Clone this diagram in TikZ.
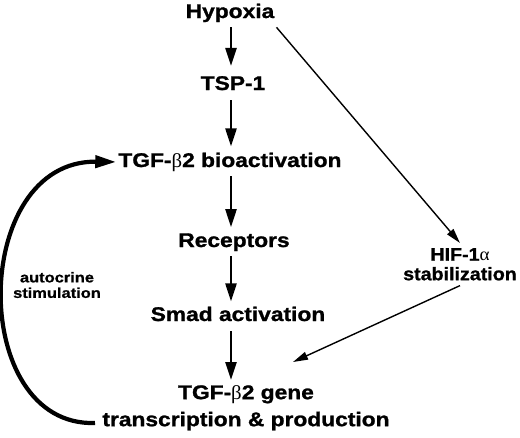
\documentclass[tikz,border=0pt]{standalone}
\usepackage{fontspec}
\setmainfont{Liberation Sans}
\newfontfamily\mainf[FakeStretch=1.15,FakeBold=1.2]{Liberation Sans}
\newfontfamily\hiff[FakeStretch=1.08,FakeBold=1.1]{Liberation Sans}
\newfontfamily\smallf[FakeStretch=1.15,FakeBold=0.8]{Liberation Sans}
\newfontfamily\greekf[FakeStretch=1.05]{Liberation Serif}
\newcommand\grkbeta{{\greekf\mdseries β}}
\newcommand\grkalpha{{\greekf\mdseries α}}
\usetikzlibrary{arrows.meta}
\begin{document}
\begin{tikzpicture}[x=1pt,y=-1pt,
  big/.style={font=\mainf\bfseries\fontsize{19.8}{22}\selectfont, inner xsep=2pt, inner ysep=5pt},
  hifstyle/.style={font=\hiff\bfseries\fontsize{18.2}{19.5}\selectfont, inner xsep=2pt, inner ysep=5pt, align=center},
  smalltxt/.style={font=\smallf\bfseries\fontsize{14.3}{15.5}\selectfont, inner sep=0pt, align=center},
  varrow/.style={line width=2.3pt, -{Triangle[length=18pt,width=11pt]}},
  darrow/.style={line width=1.4pt, -{Triangle[length=15pt,width=8pt]}},
  carrow/.style={line width=4.2pt, -{Triangle[length=21pt,width=12pt]}}
]
\useasboundingbox (0,0) rectangle (520,437);
\coordinate (ax) at (231,0);
\node[big, anchor=base] (hyp) at (230,18) {Hypoxia};
\node[big, anchor=base] (tsp) at (233,90) {TSP-1};
\node[big, anchor=base] (tgf) at (230,167) {TGF-\grkbeta2 bioactivation};
\node[big, anchor=base] (rec) at (234,247) {Receptors};
\node[big, anchor=base] (smad) at (238,321) {Smad activation};
\node[big, align=center, anchor=north, font=\mainf\bfseries\fontsize{19.8}{27}\selectfont] (gene) at (246,380) {TGF-\grkbeta2 gene\\transcription \& production};
\node[hifstyle, anchor=north] (hif) at (460,243) {HIF-1\grkalpha\\stabilization};
\node[smalltxt] (auto) at (57,285) {autocrine\\stimulation};
\coordinate (cstart) at (95,423);

\draw[varrow] (hyp.south -| ax) -- ([yshift=5pt]tsp.north -| ax);
\draw[varrow, shorten <=5pt] (tsp.south -| ax) -- ([yshift=1pt]tgf.north -| ax);
\draw[varrow] (tgf.south -| ax) -- ([yshift=1pt]rec.north -| ax);
\draw[varrow] (rec.south -| ax) -- (smad.north -| ax);
\draw[varrow, shorten <=5pt] (smad.south -| ax) -- (gene.north -| ax);
\draw[darrow] (hyp.south east) -- (hif.north);
\draw[darrow] (hif.south) -- ([xshift=47pt,yshift=18pt]gene.north);
\draw[carrow] (cstart) .. controls (-32,427) and (-30,160) .. (tgf.west);
\end{tikzpicture}
\end{document}
